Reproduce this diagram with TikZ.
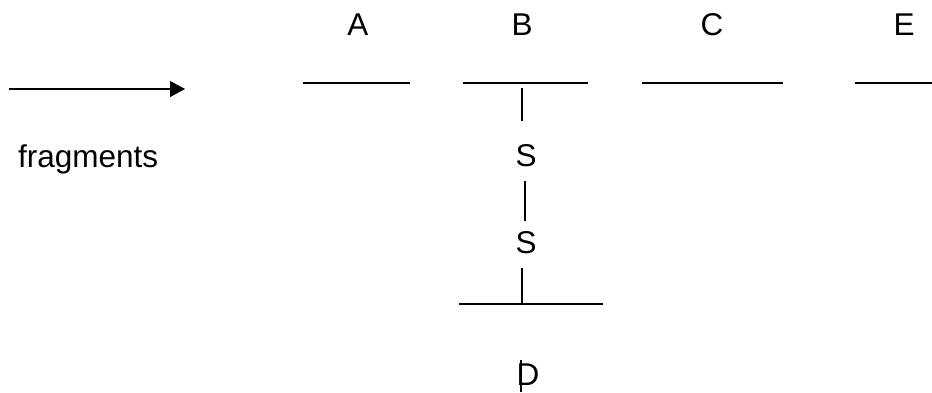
\documentclass[tikz,border=0pt]{standalone}
\usepackage{fontspec}
\setmainfont{Liberation Sans}
\usetikzlibrary{arrows.meta}
\begin{document}
\begin{tikzpicture}[x=1pt, y=-1pt,
    lbl/.style={inner sep=0pt, font=\fontsize{31.5}{36}\selectfont},
    bar/.style={line width=1.3pt},
    stem/.style={line width=1.3pt}]
    \useasboundingbox (0,0) rectangle (932,392);

    % labels
    \node[lbl] (A) at (358,25) {A};
    \node[lbl] (B) at (522,25) {B};
    \node[lbl] (C) at (712,25) {C};
    \node[lbl] (E) at (904,25) {E};

    % fragments
    \coordinate (arrS) at (9,89);
    \coordinate (arrE) at (185,89);
    \draw[line width=1.2pt, -{Triangle[length=15pt, width=16pt]}] (arrS) -- (arrE);
    \node[lbl, anchor=base west] (frag) at (18,167) {fragments};

    % bars
    \coordinate (a1) at (303,83);  \coordinate (a2) at (410,83);
    \coordinate (b1) at (463,83);  \coordinate (b2) at (588,83);
    \coordinate (c1) at (642,83);  \coordinate (c2) at (783,83);
    \coordinate (e1) at (855,83);  \coordinate (e2) at (932,83);
    \coordinate (Bmid) at (522,83);
    \draw[bar] (a1) -- (a2);
    \draw[bar] (b1) -- (b2);
    \draw[bar] (c1) -- (c2);
    \draw[bar] (e1) -- (e2);

    % S-S bridge
    \node[lbl] (S1) at (526,156) {S};
    \node[lbl] (S2) at (526,243) {S};
    \node[lbl] (D) at (528,375) {D};
    \coordinate (d1) at (459,304);  \coordinate (d2) at (603,304);
    \coordinate (Dmid) at (522,304);
    \coordinate (Dtip) at (521,360);
    \draw[bar] (d1) -- (d2);

    \draw[stem, shorten <=5pt] (Bmid) -- (Bmid |- 0,121);
    \draw[stem, shorten <=14pt, shorten >=11pt] ([xshift=-1pt]S1.south) -- ([xshift=-1pt]S2.north);
    \draw[stem, shorten <=14pt] (Dmid |- S2.south) -- (Dmid);
    \draw[stem] (Dtip) -- (Dtip |- 0,392);
\end{tikzpicture}
\end{document}
